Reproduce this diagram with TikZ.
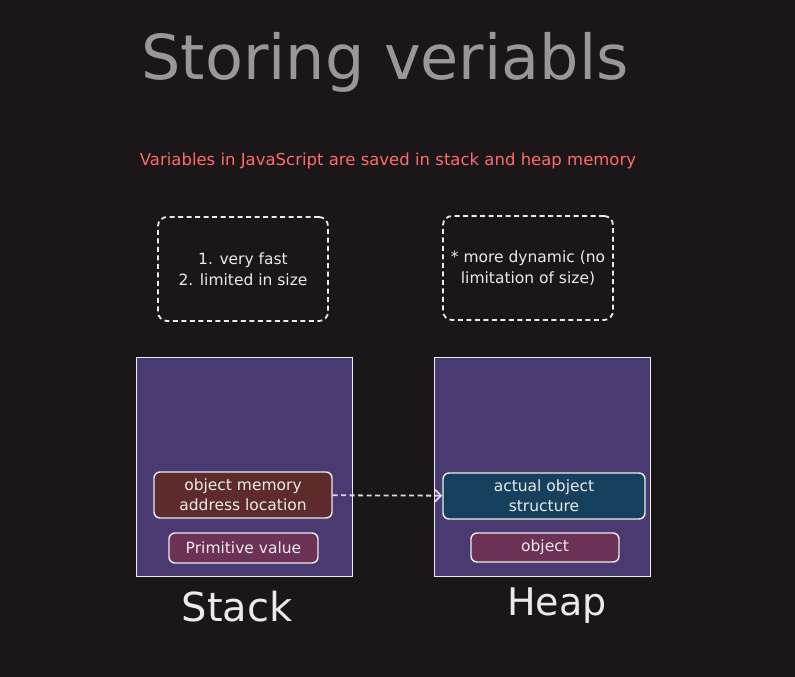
\documentclass[tikz,border=0pt]{standalone}
\usepackage{fontspec}
\setmainfont{DejaVu Sans}
\usetikzlibrary{patterns,arrows.meta}
\definecolor{bgdark}{RGB}{27,22,23}
\definecolor{titlegray}{RGB}{152,152,152}
\definecolor{notered}{RGB}{255,107,107}
\definecolor{chalk}{RGB}{235,235,235}
\definecolor{mempurple}{RGB}{74,58,114}
\definecolor{addrred}{RGB}{94,43,44}
\definecolor{objblue}{RGB}{22,64,94}
\definecolor{hatchred}{RGB}{140,45,62}
\definecolor{arrowlav}{RGB}{222,214,240}
\begin{document}
\begin{tikzpicture}[x=1pt, y=-1pt, every node/.style={text=chalk, align=center}]
\fill[bgdark] (0,0) rectangle (795,677);
\useasboundingbox (0,0) rectangle (795,677);

\tikzset{heading/.style={text=titlegray, font=\fontsize{62}{64}\selectfont}}
\tikzset{subheading/.style={text=notered, font=\fontsize{16.5}{18}\selectfont}}
\node[heading] (title) at (385, 62) {Storing veriabls};
\node[subheading] (intro) at (388, 161) {Variables in JavaScript are saved in stack and heap memory};

\tikzset{notebox/.style={draw=chalk, line width=1.8pt, dash pattern=on 5pt off 3.5pt, rounded corners=9pt, minimum width=170, minimum height=104, font=\fontsize{15.5}{21}\selectfont}}
\node[notebox] (fastnote) at (243, 269) {1. very fast\\2. limited in size};
\node[notebox] (dynnote) at (528, 268) {* more dynamic (no\\limitation of size)};

\tikzset{memory/.style={draw=chalk!85, line width=1pt, fill=mempurple, minimum width=216, minimum height=219}}
\node[memory] (stack) at (244, 467) {};
\node[memory] (heap) at (542, 467) {};

\tikzset{cell/.style={draw=chalk, line width=1.4pt, rounded corners=6pt, font=\fontsize{15.5}{20}\selectfont}}
\node[cell, fill=addrred, minimum width=178, minimum height=46] (addr) at (243, 495) {object memory\\address location};
\node[cell, fill=objblue, minimum width=202, minimum height=46] (objstruct) at (544, 496) {actual object\\structure};
\node[cell, pattern=crosshatch, pattern color=hatchred, minimum width=149, minimum height=30] (prim) at (243.5, 548) {Primitive value};
\node[cell, pattern=crosshatch, pattern color=hatchred, minimum width=148, minimum height=29] (obj) at (545, 547.5) {object};

\tikzset{caption/.style={font=\fontsize{40}{44}\selectfont}}
\node[caption] (stacklbl) at (237, 607) {Stack};
\node[caption, font=\fontsize{38}{44}\selectfont] (heaplbl) at (557, 606) {Heap};

\tikzset{mystyle/.style={-{Straight Barb[length=6pt]}, line width=1.8pt, dash pattern=on 5pt off 3.5pt, draw=arrowlav}}
\path (addr) edge [mystyle] node {} (objstruct);
\end{tikzpicture}
\end{document}
